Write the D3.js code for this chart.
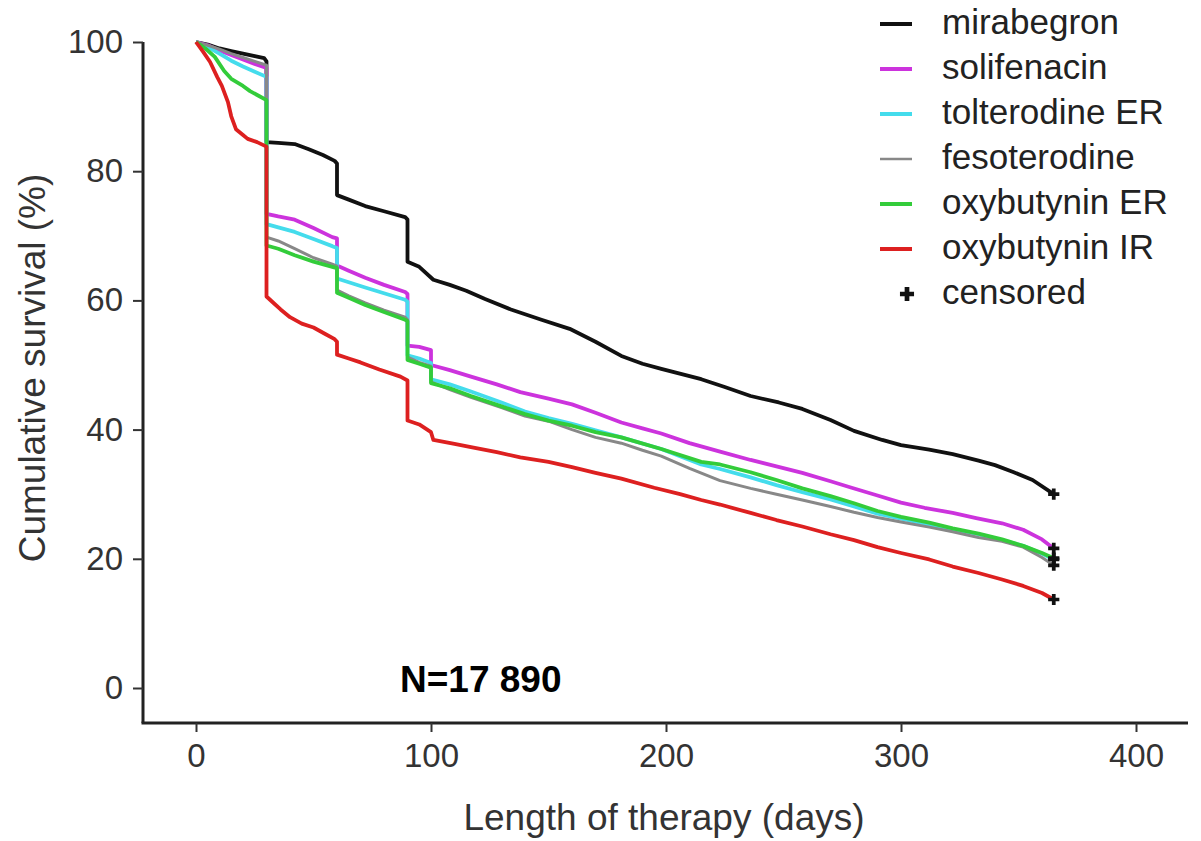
<!DOCTYPE html>
<html>
<head>
<meta charset="utf-8">
<script src="https://cdn.jsdelivr.net/npm/d3@7"></script>
<style>
  html, body { margin: 0; padding: 0; background: #fff; }
  svg { display: block; }
</style>
</head>
<body>
<svg id="chart" width="1201" height="841"></svg>
<script>
// Kaplan–Meier persistence by drug: [day, cumulative survival %]
// Repeated day values mark the vertical drops at refill points.
const mirabegron = [[0,100],[5,99.6],[10,99],[15,98.6],[20,98.2],[25,97.8],[29,97.5],[30,97],[30,84.5],[35,84.4],[42,84.2],[48,83.4],[54,82.5],[59,81.6],[60,81.2],[60,76.3],[65,75.6],[72,74.6],[80,73.8],[89,72.9],[90,72.5],[90,66],[95,65.2],[101,63.2],[108,62.4],[115,61.5],[123,60.2],[134,58.6],[147,57],[159,55.6],[170,53.6],[181,51.4],[190,50.2],[198,49.4],[215,47.8],[225,46.6],[236,45.2],[248,44.2],[258,43.2],[270,41.5],[280,39.8],[292,38.4],[300,37.6],[312,36.9],[322,36.2],[333,35.2],[340,34.5],[348,33.4],[356,32.2],[365,30]];
const solifenacin = [[0,100],[5,99.5],[10,98.7],[15,98],[20,97.3],[25,96.6],[30,96],[30,73.4],[35,73],[42,72.5],[50,71.2],[58,69.8],[60,69.6],[60,65.4],[65,64.6],[72,63.5],[80,62.4],[89,61.3],[90,61],[90,53],[95,52.8],[100,52.3],[100,50],[108,49.2],[117,48.2],[128,47],[138,45.8],[150,44.8],[160,43.9],[170,42.6],[181,41.1],[190,40.2],[198,39.4],[210,37.9],[223,36.6],[236,35.3],[247,34.3],[258,33.3],[270,32],[279,31],[290,29.8],[300,28.7],[310,27.9],[322,27.1],[332,26.3],[343,25.5],[352,24.5],[360,23],[365,21.6]];
const tolterodineER = [[0,100],[5,99.2],[10,98.2],[15,97.1],[20,96.2],[25,95.4],[30,94.6],[30,71.8],[35,71.3],[42,70.6],[50,69.5],[58,68.4],[60,68.1],[60,63.4],[65,62.8],[72,62],[80,61.1],[89,60.1],[90,59.8],[90,51.5],[95,51],[100,50.3],[100,47.8],[108,47],[117,45.9],[130,44.2],[140,42.8],[150,41.8],[160,40.9],[170,39.9],[181,38.8],[198,37],[215,34.6],[223,33.9],[236,32.6],[247,31.4],[258,30.3],[270,29.2],[280,28.1],[290,27],[300,26.2],[312,25.3],[322,24.6],[333,23.8],[343,22.9],[352,22],[360,20.8],[365,19.9]];
const fesoterodine = [[0,100],[5,99.5],[10,98.9],[15,98.2],[20,97.6],[25,97],[30,96.4],[30,69.8],[35,69.2],[42,68],[50,66.6],[58,65.6],[60,65.3],[60,61.6],[65,60.7],[72,59.6],[80,58.5],[89,57.4],[90,57],[90,51.2],[95,50.4],[100,49.8],[100,47.4],[108,46.2],[117,45],[130,43.4],[140,42.1],[150,41.3],[160,40],[170,38.8],[181,37.9],[190,36.8],[198,35.9],[210,34],[223,32.1],[236,30.9],[247,30],[258,29.1],[270,28.1],[280,27.2],[290,26.4],[300,25.7],[312,24.9],[322,24.2],[333,23.3],[343,22.7],[352,21.8],[360,20.2],[365,19]];
const oxybutyninER = [[0,100],[4,99],[8,97.7],[12,95.5],[15,94.3],[20,93.2],[23,92.4],[27,91.6],[30,91],[30,68.5],[35,68],[42,67],[50,66],[58,65.2],[60,65],[60,61.2],[65,60.4],[72,59.3],[80,58.2],[89,57],[90,56.8],[90,50.8],[95,50.2],[100,49.6],[100,47.2],[108,46.4],[117,45.2],[130,43.6],[140,42.4],[150,41.4],[160,40.6],[170,39.6],[181,38.8],[198,37],[215,35],[223,34.6],[236,33.4],[247,32.2],[258,30.9],[270,29.7],[280,28.6],[290,27.4],[300,26.5],[312,25.6],[322,24.7],[333,23.9],[343,23],[352,22],[360,20.9],[365,20.1]];
const oxybutyninIR = [[0,100],[3,98.5],[6,96.9],[9,94.6],[11,93.2],[13.6,90.7],[15,88.5],[17,86.5],[20,85.6],[22,85],[26,84.5],[30,83.8],[30,60.6],[33,59.6],[36,58.6],[40,57.4],[45,56.4],[50,55.8],[55,54.8],[59,54],[60,53.6],[60,51.6],[65,51],[70,50.4],[78,49.3],[87,48.2],[90,47.6],[90,41.4],[95,40.8],[100,39.6],[101,38.4],[110,37.8],[117,37.3],[128,36.5],[138,35.7],[150,35],[160,34.2],[170,33.3],[181,32.4],[195,31],[206,30],[215,29.1],[223,28.4],[236,27.1],[247,26],[258,25],[270,23.8],[280,22.9],[290,21.8],[300,20.9],[312,19.9],[322,18.8],[333,17.8],[343,16.8],[352,15.8],[360,14.7],[365,13.7]];

const seriesNames = ["mirabegron", "solifenacin", "tolterodine ER", "fesoterodine", "oxybutynin ER", "oxybutynin IR"];
const seriesValues = [mirabegron, solifenacin, tolterodineER, fesoterodine, oxybutyninER, oxybutyninIR];
const seriesColors = ["#111111", "#cc33dd", "#44dcec", "#888888", "#33cc3a", "#dd2020"];
const censoredLabel = "censored";
const xTicks = [0, 100, 200, 300, 400];
const yTicks = [0, 20, 40, 60, 80, 100];
const xTitle = "Length of therapy (days)";
const yTitle = "Cumulative survival (%)";
const noteText = "N=17 890";

const svg = d3.select("#chart");
const font = "'Liberation Sans', Arial, sans-serif";

const x = d3.scaleLinear().domain([0, 400]).range([196, 1136]);
const y = d3.scaleLinear().domain([0, 100]).range([688, 42]);

const axisY0 = 723;   // baseline of the x axis
const axisX0 = 143;   // position of the y axis

// Axis lines
svg.append("line").attr("x1", axisX0).attr("x2", axisX0).attr("y1", y(100)).attr("y2", axisY0)
  .attr("stroke", "#222").attr("stroke-width", 3);
svg.append("line").attr("x1", axisX0 - 1.5).attr("x2", 1188).attr("y1", axisY0).attr("y2", axisY0)
  .attr("stroke", "#222").attr("stroke-width", 3);

// Y axis ticks and labels
const yAxis = d3.axisLeft(y).tickValues(yTicks).tickSize(10).tickPadding(10);
const gy = svg.append("g").attr("transform", `translate(${axisX0},0)`).call(yAxis);
gy.select(".domain").remove();
gy.selectAll(".tick line").attr("stroke", "#333").attr("stroke-width", 2);
gy.selectAll(".tick text").attr("font-family", font).attr("font-size", 33).attr("fill", "#333");

// X axis ticks and labels
const xAxis = d3.axisBottom(x).tickValues(xTicks).tickSize(9).tickPadding(12);
const gx = svg.append("g").attr("transform", `translate(0,${axisY0})`).call(xAxis);
gx.select(".domain").remove();
gx.selectAll(".tick line").attr("stroke", "#333").attr("stroke-width", 2);
gx.selectAll(".tick text").attr("font-family", font).attr("font-size", 33).attr("fill", "#333");

// Axis titles
svg.append("text").attr("x", 664).attr("y", 830).attr("text-anchor", "middle")
  .attr("font-family", font).attr("font-size", 37).attr("fill", "#333").text(xTitle);
svg.append("text").attr("transform", "translate(45,368) rotate(-90)").attr("text-anchor", "middle")
  .attr("font-family", font).attr("font-size", 37).attr("fill", "#333").text(yTitle);

// Survival curves
const line = d3.line().x(d => x(d[0])).y(d => y(d[1])).curve(d3.curveLinear);
seriesValues.forEach((vals, i) => {
  svg.append("path").datum(vals)
    .attr("d", line)
    .attr("fill", "none")
    .attr("stroke", seriesColors[i])
    .attr("stroke-width", seriesNames[i] === "fesoterodine" ? 3 : 3.8)
    .attr("stroke-linejoin", "round");
});

// Censoring marks at the end of follow-up
const cross = d3.symbol().type(d3.symbolCross).size(70);
seriesValues.forEach(vals => {
  const last = vals[vals.length - 1];
  svg.append("path").attr("d", cross)
    .attr("transform", `translate(${x(last[0])},${y(last[1])})`)
    .attr("fill", "#111");
});

// Legend
const legend = svg.append("g");
const legendY = i => 22 + i * 45;
seriesNames.forEach((name, i) => {
  legend.append("line").attr("x1", 880).attr("x2", 912)
    .attr("y1", legendY(i) + 2).attr("y2", legendY(i) + 2)
    .attr("stroke", seriesColors[i]).attr("stroke-width", name === "fesoterodine" ? 2.5 : 4);
  legend.append("text").attr("x", 942).attr("y", legendY(i)).attr("dy", "0.35em")
    .attr("font-family", font).attr("font-size", 35).attr("fill", "#222").text(name);
});
legend.append("path").attr("d", d3.symbol().type(d3.symbolCross).size(110))
  .attr("transform", `translate(907,${legendY(6) + 2})`).attr("fill", "#111");
legend.append("text").attr("x", 942).attr("y", legendY(6)).attr("dy", "0.35em")
  .attr("font-family", font).attr("font-size", 35).attr("fill", "#222").text(censoredLabel);

// Sample size note
svg.append("text").attr("x", 400).attr("y", 692)
  .attr("font-family", "'Liberation Sans', Arial, sans-serif").attr("font-weight", "bold")
  .attr("font-size", 37).attr("fill", "#000").text(noteText);
</script>
</body>
</html>
